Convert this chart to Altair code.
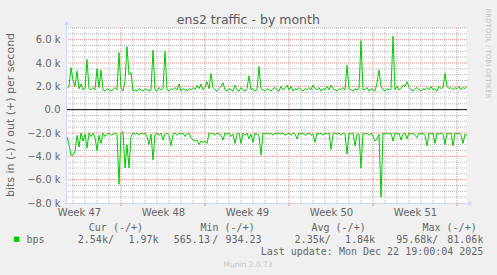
import altair as alt
import pandas as pd

# ---- data ----
# samples every 4 hours starting Wed 19 Nov 2025 12:00 (x in hours from start)
STEP_H = 4
out_k = [
    1.8, 2.0, 3.6, 2.5, 2.0, 3.3, 1.8, 2.2, 1.7, 1.8,
    4.3, 1.8, 1.7, 1.9, 1.7, 3.5, 1.9, 3.4, 1.7, 1.6,
    1.8, 1.7, 1.6, 1.7, 1.9, 1.7, 4.9, 1.8, 1.6, 2.5,
    5.4, 3.0, 3.2, 1.6, 1.7, 1.6, 1.8, 1.7, 1.6, 1.8,
    1.7, 1.6, 1.7, 5.1, 1.7, 1.6, 1.9, 1.7, 1.8, 5.0,
    1.7, 1.6, 1.8, 1.7, 1.9, 1.7, 2.2, 1.6, 1.8, 1.7,
    1.6, 1.8, 1.7, 1.9, 1.7, 2.1, 1.8, 2.2, 1.7, 1.9,
    2.4, 1.8, 3.1, 1.9, 1.7, 1.6, 1.8, 2.0, 2.3, 1.7,
    1.6, 1.8, 1.7, 1.6, 2.1, 1.7, 1.6, 1.9, 1.7, 1.6,
    1.8, 2.9, 1.7, 1.8, 1.6, 1.7, 3.7, 1.8, 1.7, 1.6,
    1.8, 1.7, 1.6, 1.8, 1.9, 1.7, 1.6, 2.0, 1.7, 1.8,
    2.1, 1.7, 2.0, 1.6, 1.8, 1.7, 1.9, 1.7, 1.6, 1.8,
    1.7, 1.9, 1.7, 2.1, 1.8, 1.7, 1.9, 1.6, 1.8, 1.7,
    2.0, 1.7, 2.1, 1.8, 1.7, 1.6, 1.8, 1.7, 1.9, 1.7,
    3.8, 1.8, 1.7, 1.6, 1.8, 1.7, 1.8, 5.9, 1.7, 1.7,
    1.9, 1.6, 1.8, 1.7, 1.6, 2.3, 3.4, 2.0, 1.7, 1.6,
    1.8, 1.7, 1.8, 6.3, 1.7, 2.0, 1.7, 1.8, 2.1, 2.0,
    2.4, 1.9, 1.7, 1.6, 1.8, 1.9, 1.7, 1.6, 1.8, 1.7,
    1.9, 1.7, 2.0, 1.7, 1.8, 1.6, 2.0, 1.8, 1.9, 3.1,
    2.0, 1.8, 1.9, 1.7, 1.9, 1.8, 2.0, 1.7, 1.9, 1.8,
    2.0,
]
in_k = [
    2.3, 3.0, 3.9, 3.9, 3.6, 2.2, 3.2, 2.0, 2.7, 2.1,
    3.3, 2.0, 2.3, 2.0, 2.4, 3.5, 2.2, 2.9, 2.0, 2.3,
    2.1, 2.0, 2.2, 2.1, 2.0, 2.1, 6.4, 2.0, 1.9, 5.0,
    3.0, 5.0, 2.3, 2.0, 2.1, 2.0, 2.2, 2.0, 2.1, 2.0,
    2.3, 3.0, 2.1, 4.3, 2.1, 2.0, 2.2, 2.0, 2.6, 2.1,
    2.0, 2.2, 3.1, 2.1, 2.0, 2.2, 2.0, 2.1, 2.0, 2.3,
    2.1, 2.0, 2.4, 2.6, 2.7, 2.6, 3.0, 2.7, 2.8, 2.7,
    2.9, 2.0, 2.1, 2.0, 2.2, 2.0, 2.1, 2.2, 2.6, 2.0,
    2.1, 2.0, 2.3, 2.1, 2.9, 2.1, 2.0, 2.9, 2.0, 2.2,
    2.0, 2.5, 2.1, 2.8, 2.0, 2.1, 2.2, 3.9, 2.0, 2.1,
    2.0, 2.1, 2.0, 2.2, 2.0, 2.1, 2.0, 2.1, 2.0, 2.2,
    2.1, 2.0, 2.2, 2.0, 2.1, 2.5, 2.0, 2.1, 2.0, 2.2,
    2.1, 2.0, 2.2, 2.1, 2.8, 2.0, 2.1, 2.0, 2.2, 2.0,
    2.1, 2.0, 3.4, 2.1, 2.0, 2.1, 2.0, 2.2, 2.0, 2.1,
    3.8, 2.0, 2.1, 2.0, 3.1, 2.1, 2.1, 5.0, 2.0, 2.1,
    2.0, 2.2, 2.0, 2.3, 2.7, 2.5, 2.1, 7.5, 2.0, 2.1,
    2.0, 2.1, 2.0, 2.7, 2.0, 2.1, 2.0, 2.6, 2.1, 2.0,
    2.5, 2.0, 2.1, 2.0, 2.2, 2.4, 2.0, 2.1, 2.0, 2.2,
    3.1, 2.0, 2.1, 2.0, 2.9, 2.0, 2.1, 2.0, 2.1, 3.0,
    2.0, 2.1, 2.0, 3.1, 2.0, 2.1, 2.0, 2.2, 2.9, 2.1,
    2.2,
]

week_mid_hours = [24, 192, 360, 528, 696]
week_labels = ["Week 47", "Week 48", "Week 49", "Week 50", "Week 51"]
week_start_hours = [108, 276, 444, 612, 780]
day_hours = [12 + 24 * k for k in range(33)]
y_major = [-6000, -4000, -2000, 2000, 4000, 6000]
y_minor = [v for v in range(-7500, 7001, 500) if v % 2000 != 0]
y_label_values = [-8000, -6000, -4000, -2000, 0, 2000, 4000, 6000]

legend_head = ["Cur (-/+)", "Min (-/+)", "Avg (-/+)", "Max (-/+)"]

# ---- layout ----
LEFT, TOP, W, H = 67, 28, 400, 175
FONT = "#666666"
AXISC = "#CFD6F8"
GREEN = "#00CC00"
GRID = "#b8b8b8"
MGRID = "#ee8888"
SANS = "DejaVu Sans"
MONO = "DejaVu Sans Mono"

xs = alt.Scale(domain=[0, 800], nice=False, zero=False)
ys = alt.Scale(domain=[-8000, 7000], nice=False, zero=False)

label_expr = " : ".join(
    f"datum.value == {h} ? '{l}'" for h, l in zip(week_mid_hours, week_labels)
) + " : ''"

XAX = alt.Axis(
    values=week_mid_hours, labelExpr=label_expr, title=None, domain=False, ticks=False,
    grid=False, labelFont=SANS, labelFontSize=10, labelColor=FONT, labelPadding=4,
    labelFlush=False, labelOverlap=False)
YAX = alt.Axis(
    values=y_label_values,
    labelExpr="datum.value == 0 ? '0.0' : format(datum.value / 1000, '.1f') + ' k'",
    title=None, domain=False, ticks=False, grid=False, labelFont=SANS,
    labelFontSize=10, labelColor=FONT, labelPadding=7, labelFlush=False,
    labelOverlap=False)

hours = [i * STEP_H for i in range(len(out_k))]
df = pd.DataFrame({"h": hours, "out": [v * 1000 for v in out_k], "inn": [v * 1000 for v in in_k]})
one = pd.DataFrame({"k": [0]})

layers = []

# minor grid
layers.append(
    alt.Chart(pd.DataFrame({"h": [d for d in day_hours if d not in week_start_hours]}))
    .mark_rule(color=GRID, strokeDash=[1, 1], strokeWidth=1)
    .encode(x=alt.X("h:Q", scale=xs, axis=XAX))
)
layers.append(
    alt.Chart(pd.DataFrame({"v": y_minor}))
    .mark_rule(color=GRID, strokeDash=[1, 1], strokeWidth=1)
    .encode(y=alt.Y("v:Q", scale=ys, axis=YAX))
)
# major grid
layers.append(
    alt.Chart(pd.DataFrame({"h": week_start_hours}))
    .mark_rule(color=MGRID, strokeDash=[1, 1], strokeWidth=1)
    .encode(x=alt.X("h:Q", scale=xs, axis=XAX))
)
layers.append(
    alt.Chart(pd.DataFrame({"h": week_start_hours}))
    .mark_rule(color=MGRID, strokeWidth=1)
    .encode(x=alt.X("h:Q", scale=xs, axis=XAX), y=alt.value(H + 1), y2=alt.value(H + 3))
)
layers.append(
    alt.Chart(pd.DataFrame({"v": y_major}))
    .mark_rule(color=MGRID, strokeDash=[1, 1], strokeWidth=1)
    .encode(y=alt.Y("v:Q", scale=ys, axis=YAX))
)
# zero line
layers.append(
    alt.Chart(pd.DataFrame({"v": [0]}))
    .mark_rule(color="#000000", strokeWidth=1)
    .encode(y=alt.Y("v:Q", scale=ys, axis=YAX))
)
# data
layers.append(
    alt.Chart(df).mark_line(color=GREEN, strokeWidth=1)
    .encode(x=alt.X("h:Q", scale=xs, axis=XAX), y=alt.Y("out:Q", scale=ys, axis=YAX))
)
layers.append(
    alt.Chart(df).transform_calculate(neg="-datum.inn").mark_line(color=GREEN, strokeWidth=1)
    .encode(x=alt.X("h:Q", scale=xs, axis=XAX), y=alt.Y("neg:Q", scale=ys, axis=YAX))
)
# axis lines and arrows
layers.append(
    alt.Chart(one).mark_rule(color=AXISC, strokeWidth=1)
    .encode(x=alt.value(-0.5), y=alt.value(-3), y2=alt.value(H + 1))
)
layers.append(
    alt.Chart(one).mark_rule(color=AXISC, strokeWidth=1)
    .encode(x=alt.value(-3), x2=alt.value(W + 2), y=alt.value(H + 0.5))
)
layers.append(
    alt.Chart(one).mark_point(shape="triangle-up", filled=True, color=AXISC, size=22, opacity=1)
    .encode(x=alt.value(-0.5), y=alt.value(-5))
)
layers.append(
    alt.Chart(one).mark_point(shape="triangle-right", filled=True, color=AXISC, size=22, opacity=1)
    .encode(x=alt.value(W + 3.5), y=alt.value(H + 0.5))
)


def txt(s, px, py, align="left", font=MONO, size=10, color=FONT, angle=0):
    return alt.Chart(one).mark_text(
        text=s, align=align, baseline="middle", font=font, fontSize=size,
        color=color, angle=angle
    ).encode(x=alt.value(px - LEFT), y=alt.value(py - TOP))


layers += [
    txt("ens2 traffic - by month", 248.3, 19.5, "center", SANS, 12.5, "#5a5a5a"),
    txt("bits in (-) / out (+) per second", 11, 115, "center", SANS, 11, FONT, 270),
    txt("RRDTOOL / TOBI OETIKER", 487.5, 53.5, "center", SANS, 7, "#c4c4c4", 90),
    txt(legend_head[0], 88.8, 228),
    txt(legend_head[1], 200.5, 228),
    txt(legend_head[2], 311.5, 228),
    txt(legend_head[3], 422.5, 228),
    txt("bps", 26.5, 239.5),
    txt("2.54k/", 77.8, 239.5),
    txt("1.97k", 158.5, 239.5, "right"),
    txt("565.13", 173.8, 239.5),
    txt("/", 215.2, 239.5, "center"),
    txt("934.23", 261.5, 239.5, "right"),
    txt("2.35k/", 294.6, 239.5),
    txt("1.84k", 375, 239.5, "right"),
    txt("95.68k/", 396.2, 239.5),
    txt("81.06k", 483.4, 239.5, "right"),
    txt("Last update: Mon Dec 22 19:00:04 2025", 483.4, 251.5, "right"),
    txt("Munin 2.0.73", 248, 264.5, "center", SANS, 7.5, "#c8c8c8"),
]
layers.append(
    alt.Chart(one).mark_square(color=GREEN, size=28, opacity=1)
    .encode(x=alt.value(16.7 - LEFT), y=alt.value(239.2 - TOP))
)

chart = alt.layer(*layers).properties(
    width=W, height=H,
    autosize=alt.AutoSizeParams(type="none"),
    padding={"left": LEFT, "top": TOP, "right": 497 - LEFT - W, "bottom": 275 - TOP - H},
    background="#F0F0F0",
).configure_view(fill="#FFFFFF", stroke=None)

chart.save("out.html", embed_options={"renderer": "svg", "actions": False})
